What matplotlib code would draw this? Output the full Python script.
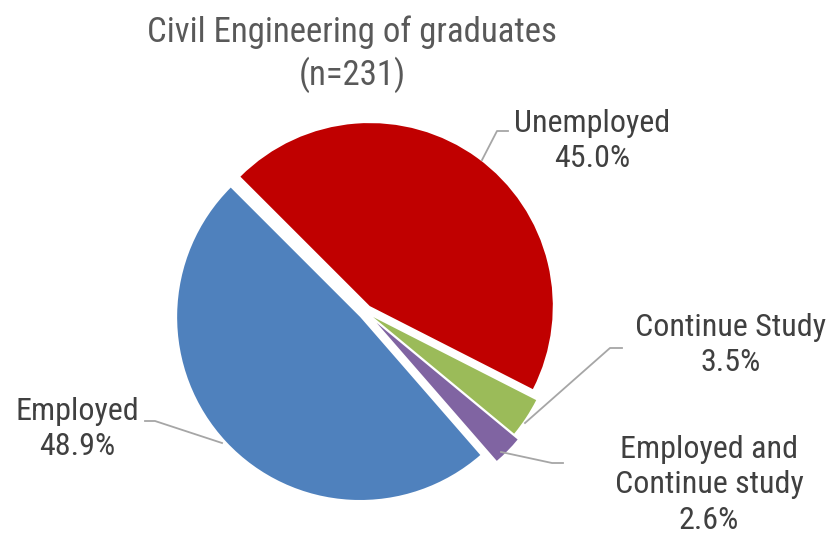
import matplotlib
matplotlib.use("Agg")
import matplotlib.pyplot as plt

# Survey outcome shares for civil engineering graduates
categories = ["Unemployed", "Continue Study", "Employed and\nContinue study", "Employed"]
shares = [45.0, 3.5, 2.6, 48.9]
colors = ["#C00000", "#9BBB59", "#8064A2", "#4F81BD"]
explode = [0.04, 0.05, 0.085, 0.04]
title_lines = ["Civil Engineering of graduates", "(n=231)"]

W, H, DPI = 831, 540, 100
fig = plt.figure(figsize=(W / DPI, H / DPI), dpi=DPI)
ax = fig.add_axes([0, 0, 1, 1])

ax.pie(shares, colors=colors, explode=explode, startangle=135,
       counterclock=False, radius=1.0,
       wedgeprops=dict(linewidth=0))

# pie centre and radius in pixels; axis units are one pie radius
cx, cy, R = 365.5, 312.0, 183.0
ax.set_xlim(-cx / R, (W - cx) / R)
ax.set_ylim(-(H - cy) / R, cy / R)
ax.set_aspect("equal")
ax.axis("off")

font = ["Roboto Condensed", "DejaVu Sans"]
text_color = "#404040"
line_color = "#A6A6A6"


def P(x, y):
    """pixel position -> data coordinates"""
    return ((x - cx) / R, (cy - y) / R)


# title
ax.text(*P(352, 32), title_lines[0], ha="center", va="center",
        fontsize=25, color="#595959", family=font)
ax.text(*P(352, 75), title_lines[1], ha="center", va="center",
        fontsize=25, color="#595959", family=font)

# data labels: (label centre, leader-line points)
labels = {
    "Unemployed": ((592, 141), [(482, 160), (497, 131), (508, 131)]),
    "Continue Study": ((731, 345), [(525, 423), (610, 348), (622, 348)]),
    "Employed and\nContinue study": ((709, 485), [(501, 452), (552, 463), (563, 463)]),
    "Employed": ((77, 429), [(222, 443), (155, 421), (145, 421)]),
}

for name, val in zip(categories, shares):
    (lx, ly), pts = labels[name]
    ax.text(*P(lx, ly), f"{name}\n{val:.1f}%", ha="center", va="center",
            fontsize=23, color=text_color, family=font, linespacing=1.27)
    xs, ys = zip(*[P(x, y) for x, y in pts])
    ax.plot(xs, ys, color=line_color, lw=1.3)

fig.savefig("out.png", dpi=DPI)
